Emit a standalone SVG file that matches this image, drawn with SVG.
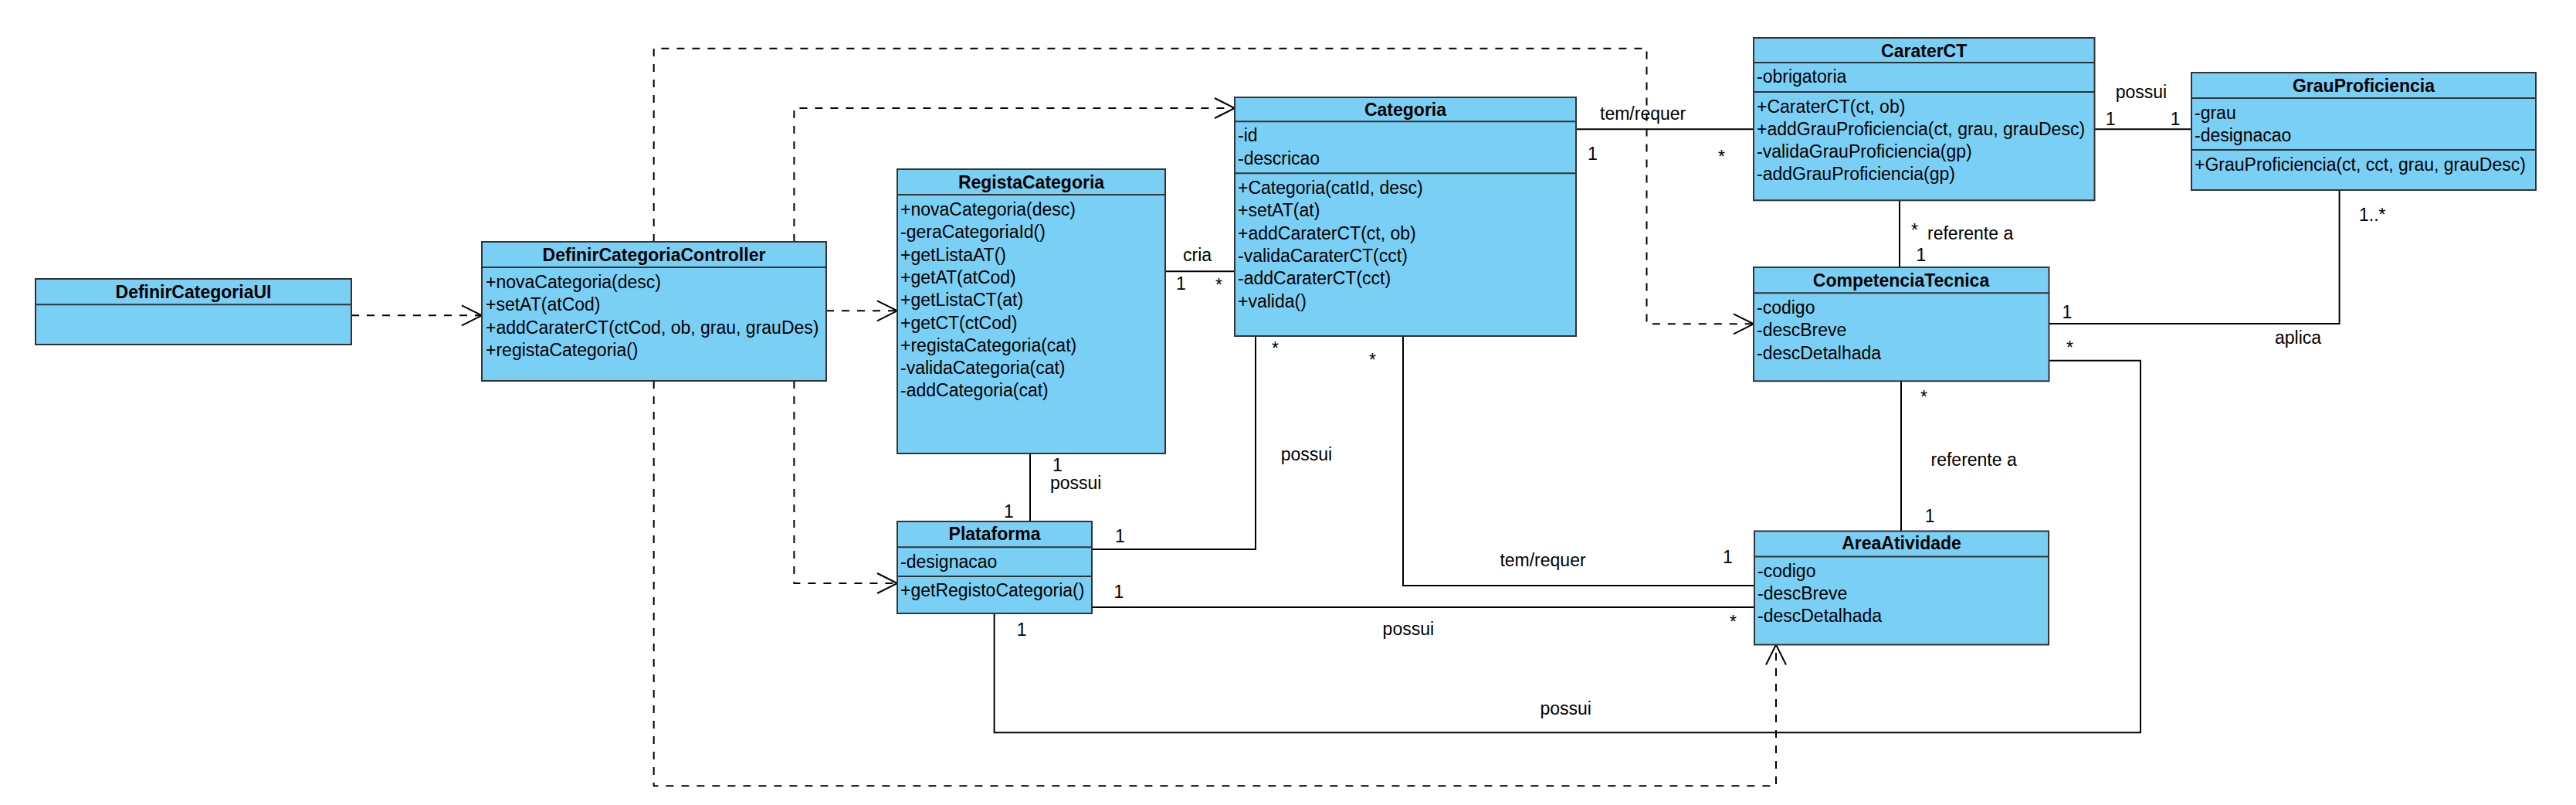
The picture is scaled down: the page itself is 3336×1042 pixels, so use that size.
<svg xmlns="http://www.w3.org/2000/svg" width="3336" height="1042" viewBox="0 0 3336 1042">
<style>
.box{fill:#7ACFF5;stroke:#333;stroke-width:2}
.dv{stroke:#333;stroke-width:2}
text{font-family:"Liberation Sans",Arial,sans-serif;font-size:23px;fill:#000}
.h{font-weight:bold;text-anchor:middle}
.dep{fill:none;stroke:#000;stroke-width:2;stroke-dasharray:10,10}
.as{fill:none;stroke:#000;stroke-width:2}
</style>
<defs>
<marker id="open" markerUnits="userSpaceOnUse" markerWidth="30" markerHeight="30" refX="26" refY="13" orient="auto" overflow="visible">
<path d="M0,0 L26,13 L0,26" fill="none" stroke="#000" stroke-width="2"/>
</marker>
</defs>
<rect width="3336" height="1042" fill="#fff"/>

<g id="connectors">
<path class="dep" d="M455,408.3 L624,408.3" marker-end="url(#open)"/>
<path class="dep" d="M1070,402.3 L1162,402.3" marker-end="url(#open)"/>
<path class="dep" d="M1028.4,313 L1028.4,140 L1599,140" marker-end="url(#open)"/>
<path class="dep" d="M1028.4,493 L1028.4,755 L1162,755" marker-end="url(#open)"/>
<path class="dep" d="M846.7,313 L846.7,62.7 L2132.5,62.7 L2132.5,419.3 L2271,419.3" marker-end="url(#open)"/>
<path class="dep" d="M846.7,493 L846.7,1017.3 L2300,1017.3 L2300,834.5" marker-end="url(#open)"/>

<path class="as" d="M1509,351.3 L1599,351.3"/>
<text x="1532" y="338">cria</text>
<text x="1523" y="375">1</text>
<text x="1574" y="377">*</text>

<path class="as" d="M1334,587 L1334,675"/>
<text x="1363" y="610">1</text>
<text x="1360" y="633">possui</text>
<text x="1300" y="670">1</text>

<path class="as" d="M1414,711 L1626,711 L1626,435"/>
<text x="1647" y="459">*</text>
<text x="1658.7" y="596">possui</text>
<text x="1444" y="701.7">1</text>

<path class="as" d="M1817,435 L1817,758 L2272,758"/>
<text x="1773" y="474">*</text>
<text x="1942.4" y="732.5">tem/requer</text>
<text x="2231" y="729">1</text>

<path class="as" d="M1414,786 L2272,786"/>
<text x="1442.6" y="774">1</text>
<text x="2240" y="813">*</text>
<text x="1790.6" y="822">possui</text>

<path class="as" d="M1287.6,794 L1287.6,948.3 L2772,948.3 L2772,466.7 L2653.5,466.7"/>
<text x="1316.8" y="822.7">1</text>
<text x="1994.5" y="925">possui</text>
<text x="2676" y="458">*</text>

<path class="as" d="M2041,167.3 L2271,167.3"/>
<text x="2072" y="154.5">tem/requer</text>
<text x="2056" y="206.7">1</text>
<text x="2225" y="211">*</text>

<path class="as" d="M2712.5,167.3 L2838,167.3"/>
<text x="2739.7" y="127">possui</text>
<text x="2726.7" y="161.7">1</text>
<text x="2810.7" y="161.7">1</text>

<path class="as" d="M2460,259.3 L2460,346"/>
<text x="2475" y="306">*</text>
<text x="2496" y="310">referente a</text>
<text x="2481.5" y="338.3">1</text>

<path class="as" d="M2653.5,419 L3029.6,419 L3029.6,246"/>
<text x="2670.6" y="411.7">1</text>
<text x="3055" y="286">1..*</text>
<text x="2946" y="445">aplica</text>

<path class="as" d="M2462,493.3 L2462,687.5"/>
<text x="2487" y="522">*</text>
<text x="2500.5" y="603">referente a</text>
<text x="2492.8" y="676">1</text>
</g>

<g id="DefinirCategoriaUI">
<rect class="box" x="46" y="361" width="409" height="85"/>
<line class="dv" x1="46" y1="394.3" x2="455" y2="394.3"/>
<text class="h" x="250.5" y="386">DefinirCategoriaUI</text>
</g>

<g id="DefinirCategoriaController">
<rect class="box" x="624" y="313" width="446" height="180"/>
<line class="dv" x1="624" y1="346" x2="1070" y2="346"/>
<text class="h" x="847" y="338">DefinirCategoriaController</text>
<text x="629" y="373">+novaCategoria(desc)</text>
<text x="629" y="402.3">+setAT(atCod)</text>
<text x="629" y="431.6">+addCaraterCT(ctCod, ob, grau, grauDes)</text>
<text x="629" y="460.9">+registaCategoria()</text>
</g>

<g id="RegistaCategoria">
<rect class="box" x="1162" y="219" width="347" height="368"/>
<line class="dv" x1="1162" y1="252" x2="1509" y2="252"/>
<text class="h" x="1335.5" y="243.5">RegistaCategoria</text>
<text x="1166" y="279">+novaCategoria(desc)</text>
<text x="1166" y="308.3">-geraCategoriaId()</text>
<text x="1166" y="337.6">+getListaAT()</text>
<text x="1166" y="366.9">+getAT(atCod)</text>
<text x="1166" y="396.2">+getListaCT(at)</text>
<text x="1166" y="425.5">+getCT(ctCod)</text>
<text x="1166" y="454.8">+registaCategoria(cat)</text>
<text x="1166" y="484.1">-validaCategoria(cat)</text>
<text x="1166" y="513.4">-addCategoria(cat)</text>
</g>

<g id="Categoria">
<rect class="box" x="1599" y="126" width="442" height="309"/>
<line class="dv" x1="1599" y1="157.3" x2="2041" y2="157.3"/>
<line class="dv" x1="1599" y1="224.3" x2="2041" y2="224.3"/>
<text class="h" x="1820" y="150">Categoria</text>
<text x="1603" y="183.3">-id</text>
<text x="1603" y="212.6">-descricao</text>
<text x="1603" y="251">+Categoria(catId, desc)</text>
<text x="1603" y="280.3">+setAT(at)</text>
<text x="1603" y="309.6">+addCaraterCT(ct, ob)</text>
<text x="1603" y="338.9">-validaCaraterCT(cct)</text>
<text x="1603" y="368.2">-addCaraterCT(cct)</text>
<text x="1603" y="397.5">+valida()</text>
</g>

<g id="CaraterCT">
<rect class="box" x="2271" y="49" width="441.5" height="210.3"/>
<line class="dv" x1="2271" y1="81" x2="2712.5" y2="81"/>
<line class="dv" x1="2271" y1="119" x2="2712.5" y2="119"/>
<text class="h" x="2491.7" y="74">CaraterCT</text>
<text x="2275" y="107.3">-obrigatoria</text>
<text x="2275" y="145.5">+CaraterCT(ct, ob)</text>
<text x="2275" y="174.8">+addGrauProficiencia(ct, grau, grauDesc)</text>
<text x="2275" y="204.1">-validaGrauProficiencia(gp)</text>
<text x="2275" y="233.4">-addGrauProficiencia(gp)</text>
</g>

<g id="GrauProficiencia">
<rect class="box" x="2838" y="94" width="446" height="152"/>
<line class="dv" x1="2838" y1="127" x2="3284" y2="127"/>
<line class="dv" x1="2838" y1="194" x2="3284" y2="194"/>
<text class="h" x="3061" y="119.3">GrauProficiencia</text>
<text x="2842" y="154">-grau</text>
<text x="2842" y="183.3">-designacao</text>
<text x="2842" y="220.5">+GrauProficiencia(ct, cct, grau, grauDesc)</text>
</g>

<g id="CompetenciaTecnica">
<rect class="box" x="2271" y="346" width="382.5" height="147.3"/>
<line class="dv" x1="2271" y1="379.3" x2="2653.5" y2="379.3"/>
<text class="h" x="2462" y="371">CompetenciaTecnica</text>
<text x="2275" y="406">-codigo</text>
<text x="2275" y="435.3">-descBreve</text>
<text x="2275" y="464.6">-descDetalhada</text>
</g>

<g id="AreaAtividade">
<rect class="box" x="2272" y="687.5" width="381" height="147"/>
<line class="dv" x1="2272" y1="720.5" x2="2653" y2="720.5"/>
<text class="h" x="2462.5" y="710.5">AreaAtividade</text>
<text x="2276" y="746.7">-codigo</text>
<text x="2276" y="776">-descBreve</text>
<text x="2276" y="805.3">-descDetalhada</text>
</g>

<g id="Plataforma">
<rect class="box" x="1162" y="675" width="252" height="119"/>
<line class="dv" x1="1162" y1="708.3" x2="1414" y2="708.3"/>
<line class="dv" x1="1162" y1="746" x2="1414" y2="746"/>
<text class="h" x="1288" y="699">Plataforma</text>
<text x="1166" y="735">-designacao</text>
<text x="1166" y="771.7">+getRegistoCategoria()</text>
</g>
</svg>
